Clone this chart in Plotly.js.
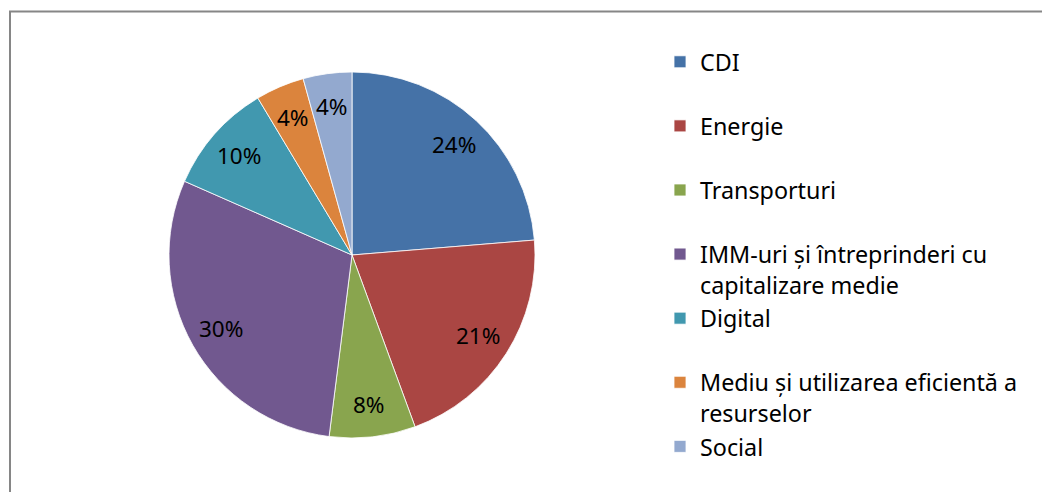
<!DOCTYPE html>
<html>
<head>
<meta charset="utf-8">
<script src="https://cdn.plot.ly/plotly-3.0.1.min.js"></script>
<style>html,body{margin:0;padding:0;background:#fff;}#chart{width:1042px;height:492px;}</style>
</head>
<body>
<div id="chart"></div>
<script>
const categories = ["CDI", "Energie", "Transporturi", "IMM-uri și întreprinderi cu<br>capitalizare medie", "Digital", "Mediu și utilizarea eficientă a<br>resurselor", "Social"];
const shares = [23.7, 20.7, 7.6, 29.6, 9.8, 4.3, 4.3];
const sliceColors = ["#4572A7", "#AA4643", "#89A54E", "#71588F", "#4198AF", "#DB843D", "#93A9CF"];

const W = 1042, H = 492;
const cx = 352, cy = 255, R = 183;
const FONT = "'Noto Sans', 'Open Sans', sans-serif";

// legend entries occupy two-line slots (last one needs no padding line)
const legendLabels = categories.map((c, i) => {
  const t = (c.indexOf("<br>") >= 0 || i === categories.length - 1) ? c : c + "<br> ";
  return t.split("<br>").map(s => '<span style="font-size:23.3px">' + s + '</span>').join("<br>");
});

const domX = [(cx - R) / W, (cx + R) / W];
const domY = [1 - (cy + R) / H, 1 - (cy - R) / H];

const trace = {
  type: "pie",
  labels: legendLabels,
  values: shares,
  sort: false,
  direction: "clockwise",
  rotation: 0,
  marker: {colors: sliceColors, line: {color: "#ffffff", width: 0.8}},
  textinfo: "none",
  hoverinfo: "none",
  domain: {x: domX, y: domY}
};

// percentage labels placed along each slice's mid-angle (Excel-style label radius)
const total = shares.reduce((a, b) => a + b, 0);
const annotations = [];
let cum = 0;
shares.forEach(v => {
  const mid = (cum + v / 2) / total * 2 * Math.PI;
  cum += v;
  const rr = 0.82 * R;
  const px = cx + rr * Math.sin(mid);
  const py = cy - rr * Math.cos(mid);
  annotations.push({
    xref: "paper", yref: "paper",
    x: px / W, y: 1 - py / H,
    xanchor: "center", yanchor: "middle",
    showarrow: false,
    text: Math.round(v / total * 100) + "%",
    font: {family: FONT, size: 22.5, color: "#000000"}
  });
});

const layout = {
  width: W, height: H,
  margin: {l: 0, r: 0, t: 0, b: 0},
  paper_bgcolor: "#ffffff",
  font: {family: FONT, color: "#000000"},
  showlegend: true,
  legend: {
    x: 660 / W, xanchor: "left",
    y: 1 - 40 / H, yanchor: "top",
    valign: "top",
    font: {family: FONT, size: 23.5, color: "#000000"},
    bgcolor: "rgba(0,0,0,0)"
  },
  annotations: annotations,
  shapes: [{
    type: "rect", xref: "paper", yref: "paper",
    x0: 10 / W, x1: 1.1, y0: -0.1, y1: 1 - 11.5 / H,
    line: {color: "#868686", width: 2}, fillcolor: "rgba(0,0,0,0)"
  }]
};

Plotly.newPlot("chart", [trace], layout, {displayModeBar: false, staticPlot: true});
</script>
</body>
</html>
